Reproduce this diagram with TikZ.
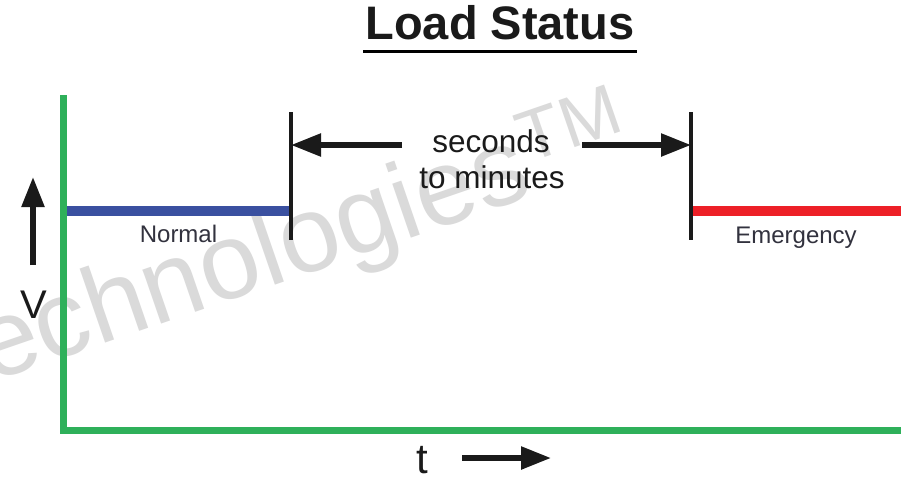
\documentclass[tikz,border=0pt]{standalone}
\usepackage{fontspec}
\setmainfont{Liberation Sans}
\usetikzlibrary{arrows.meta}
\definecolor{axisgreen}{RGB}{46,176,90}
\definecolor{normalblue}{RGB}{58,80,160}
\definecolor{emergred}{RGB}{237,32,39}
\definecolor{marklight}{RGB}{218,218,218}
\definecolor{labelgray}{RGB}{50,50,62}
\definecolor{inkblack}{RGB}{26,26,26}
\begin{document}
\begin{tikzpicture}[x=1pt,y=-1pt,
  bigarrow/.style={draw=inkblack,line width=5.5pt,-{Triangle[length=30pt,width=22pt]}},
  tickline/.style={draw=inkblack,line width=3.5pt},
  axisline/.style={draw=axisgreen,line width=7pt,line join=miter},
  levelline/.style={line width=10pt},
  bigtext/.style={anchor=base,inner sep=0pt,text=inkblack},
  smalltext/.style={anchor=base,inner sep=0pt,text=labelgray,font=\fontsize{24}{28}\selectfont}]
\useasboundingbox (0,0) rectangle (909,477);
\fill[white] (0,0) rectangle (909,477);
% faint watermark behind everything
\begin{scope}
\clip (0,0) rectangle (909,477);
\node[anchor=base west,rotate=19,inner sep=0pt,text=marklight,
  font=\fontsize{108}{108}\selectfont] (mark) at (-10,383)
  {echnologies\kern3pt\raisebox{0.30em}{\fontsize{72}{72}\selectfont TM}};
\end{scope}
% title
\node[bigtext,font=\fontsize{47}{50}\selectfont\bfseries] (title) at (500,39) {Load Status};
\draw[draw=black,line width=3.5pt] ([xshift=-2pt,yshift=-12.5pt]title.base west) -- ([xshift=2pt,yshift=-12.5pt]title.base east);
% axes
\coordinate (ytop) at (63.5,95);
\coordinate (origin) at (63.5,430);
\coordinate (xend) at (901,430);
\draw[axisline] (ytop) -- (origin) -- (xend);
% voltage levels
\coordinate (nstart) at (67,211);
\coordinate (nend) at (290,211);
\coordinate (estart) at (693,211);
\coordinate (eend) at (901,211);
\draw[levelline,draw=normalblue] (nstart) -- (nend);
\draw[levelline,draw=emergred] (estart) -- (eend);
% transfer interval markers
\coordinate (lt) at (291,112);
\coordinate (lb) at (291,240);
\coordinate (rt) at (691,112);
\coordinate (rb) at (691,240);
\draw[tickline] (lt) -- (lb);
\draw[tickline] (rt) -- (rb);
\coordinate (la) at (291,145);
\coordinate (ra) at (691,145);
\coordinate (lastart) at (402,145);
\coordinate (rastart) at (582,145);
\draw[bigarrow] (lastart) -- (la);
\draw[bigarrow] (rastart) -- (ra);
\node[bigtext,font=\fontsize{31.5}{36}\selectfont] (sec) at (491,152) {seconds};
\node[bigtext,font=\fontsize{31.5}{36}\selectfont] (mins) at (492,188) {to minutes};
% level labels
\node[smalltext] (normal) at (178.5,242) {Normal};
\node[smalltext] (emerg) at (796,243) {Emergency};
% axis labels
\coordinate (vtail) at (33,265);
\coordinate (vtip) at (33,177);
\draw[bigarrow] (vtail) -- (vtip);
\node[bigtext,font=\fontsize{40}{44}\selectfont] (vlabel) at (33.5,318) {V};
\node[bigtext,font=\fontsize{42}{46}\selectfont] (tlabel) at (422,473) {t};
\coordinate (ttail) at (462,458);
\coordinate (ttip) at (551,458);
\draw[bigarrow] (ttail) -- (ttip);
\end{tikzpicture}
\end{document}
